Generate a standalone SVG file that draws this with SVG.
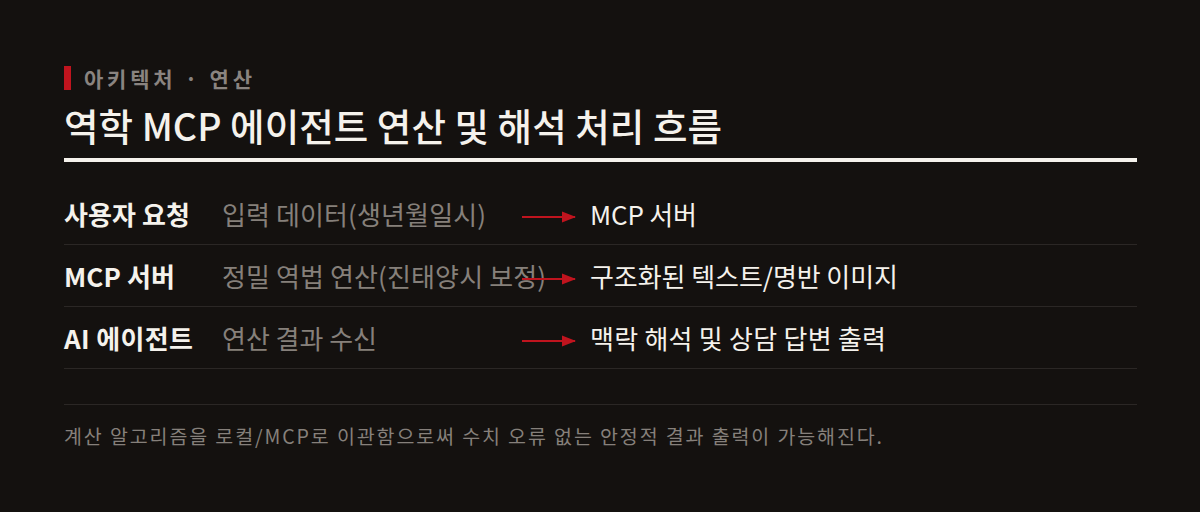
<svg xmlns="http://www.w3.org/2000/svg" width="1200" height="512" viewBox="0 0 1200 512">
<defs>
<marker id="ah" markerWidth="14" markerHeight="12" refX="13" refY="6" orient="auto" markerUnits="userSpaceOnUse">
<path d="M0,0.5 L14,6 L0,11.5 Z" fill="#c0141e"/>
</marker>
<style>
text{font-family:"Noto Sans CJK KR","Noto Sans",sans-serif}
.cat{font-size:21px;font-weight:700;fill:#8a8480}
.title{font-size:37.5px;font-weight:500;fill:#f5f2ec}
.lab{font-size:26px;font-weight:700;fill:#f5f2ec}
.mid{font-size:26px;font-weight:400;fill:#86807b}
.tgt{font-size:26px;font-weight:400;fill:#f5f2ec}
.sep{stroke:#2b2725;stroke-width:1}
.arr{stroke:#c0141e;stroke-width:2;fill:none}
.foot{font-size:19.5px;font-weight:400;fill:#86807b}
</style>
</defs>
<rect width="1200" height="512" fill="#14110f"/>
<g id="header">
<rect x="64" y="66" width="7" height="24" fill="#c0141e"/>
<text class="cat" x="84" y="87" textLength="168">아키텍처 · 연산</text>
<text class="title" x="64" y="141" textLength="658">역학 MCP 에이전트 연산 및 해석 처리 흐름</text>
<rect x="64" y="158" width="1073" height="4" fill="#f5f2ec"/>
</g>
<g id="row1">
<text class="lab" x="64" y="225" textLength="126">사용자 요청</text>
<text class="mid" x="222" y="225" textLength="264">입력 데이터(생년월일시)</text>
<text class="tgt" x="590" y="225" textLength="107">MCP 서버</text>
</g>
<g id="row2">
<text class="lab" x="64" y="287" textLength="111">MCP 서버</text>
<text class="mid" x="222" y="287" textLength="324">정밀 역법 연산(진태양시 보정)</text>
<text class="tgt" x="590" y="287" textLength="308">구조화된 텍스트/명반 이미지</text>
</g>
<g id="row3">
<text class="lab" x="64" y="349" textLength="129">AI 에이전트</text>
<text class="mid" x="222" y="349" textLength="155">연산 결과 수신</text>
<text class="tgt" x="590" y="349" textLength="296">맥락 해석 및 상담 답변 출력</text>
</g>
<g id="connectors">
<line class="arr" x1="522" y1="217" x2="575" y2="217" marker-end="url(#ah)"/>
<line class="arr" x1="522" y1="279" x2="575" y2="279" marker-end="url(#ah)"/>
<line class="arr" x1="522" y1="341" x2="575" y2="341" marker-end="url(#ah)"/>
</g>
<g id="separators">
<line class="sep" x1="64" y1="244.5" x2="1137" y2="244.5"/>
<line class="sep" x1="64" y1="306.5" x2="1137" y2="306.5"/>
<line class="sep" x1="64" y1="368.5" x2="1137" y2="368.5"/>
<line class="sep" x1="64" y1="404.5" x2="1137" y2="404.5"/>
</g>
<g id="footer">
<text class="foot" x="64" y="444" textLength="818">계산 알고리즘을 로컬/MCP로 이관함으로써 수치 오류 없는 안정적 결과 출력이 가능해진다.</text>
</g>
</svg>
